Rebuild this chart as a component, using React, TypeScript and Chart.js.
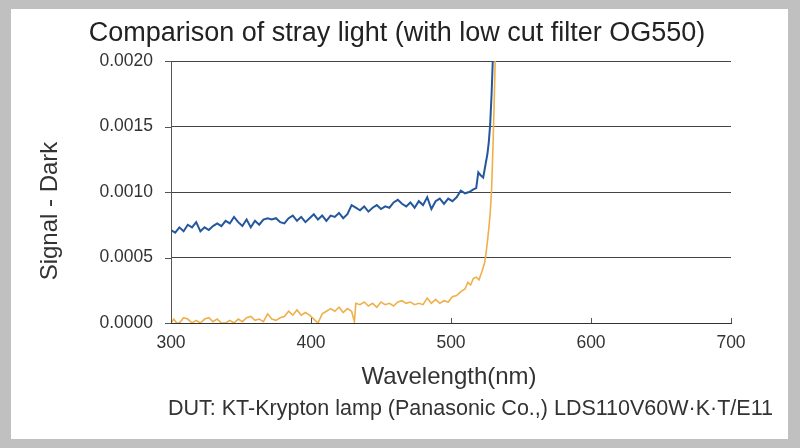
import React, { useEffect, useRef } from "react";
import { Chart, registerables } from "chart.js";

Chart.register(...registerables);

const titleText = "Comparison of stray light (with low cut filter OG550)";
const yTitle = "Signal - Dark";
const xTitle = "Wavelength(nm)";
const footNote = "DUT: KT-Krypton lamp (Panasonic Co.,) LDS110V60W·K·T/E11";

const yTicks = [0, 0.0005, 0.001, 0.0015, 0.002];
const xTicks = [300, 400, 500, 600, 700];

// Without filter (blue), values x1e-4
const blueWl = [
  300, 303, 306, 309, 312, 315, 318, 321, 324, 327, 330, 333, 336, 339, 342, 345, 348, 351, 354, 357,
  360, 363, 366, 369, 372, 375, 378, 381, 384, 387, 390, 393, 396, 399, 402, 405, 408, 411, 414, 417,
  420, 423, 426, 429, 432, 435, 438, 441, 444, 447, 450, 453, 456, 459, 462, 465, 468, 471, 474, 477,
  480, 483, 486, 489, 492, 495, 498, 501, 504, 507, 510, 513, 516, 518, 519.5, 521, 523, 524.5, 526, 527,
  528, 529, 530,
];
const blueVal = [
  7.1, 6.9, 7.3, 7.0, 7.5, 7.3, 7.7, 7.0, 7.3, 7.1, 7.4, 7.6, 7.4, 7.8, 7.6, 8.1, 7.7, 7.4, 7.9, 7.3,
  7.8, 7.5, 7.9, 8.0, 7.9, 8.0, 7.7, 7.6, 8.0, 8.2, 7.8, 8.1, 7.7, 8.0, 8.3, 7.9, 8.2, 7.8, 8.2, 8.1,
  8.4, 8.0, 8.3, 9.0, 8.8, 8.6, 8.9, 8.5, 8.8, 9.0, 8.7, 8.9, 8.8, 9.2, 9.4, 9.1, 8.9, 9.2, 8.8, 9.3,
  9.0, 9.6, 8.7, 9.3, 9.5, 9.1, 9.5, 9.3, 9.6, 10.1, 9.9, 10.0, 10.2, 10.3, 11.5, 11.3, 11.1, 12.0, 12.9, 13.8,
  15.2, 17.5, 20.5,
];

// With OG550 filter (orange), values x1e-4
const orangeWl = [
  300, 302, 304, 306, 309, 312, 315, 318, 321, 324, 327, 330, 333, 336, 339, 342, 345, 348, 351, 354,
  357, 360, 363, 366, 369, 372, 375, 378, 381, 384, 387, 390, 393, 396, 399, 402, 405, 408, 411, 414,
  417, 420, 423, 426, 429, 431, 432, 435, 438, 441, 444, 447, 450, 453, 456, 459, 462, 465, 468, 471,
  474, 477, 480, 483, 486, 489, 492, 495, 498, 501, 504, 507, 510, 512, 514, 516, 518, 520, 522, 524,
  525, 526, 527, 528, 529, 530, 531, 532,
];
const orangeVal = [
  0.0, 0.3, 0.0, 0.0, 0.4, 0.3, 0.0, 0.2, 0.0, 0.3, 0.4, 0.1, 0.3, 0.0, 0.0, 0.2, 0.0, 0.3, 0.1, 0.4,
  0.5, 0.2, 0.3, 0.1, 0.7, 0.3, 0.2, 0.4, 0.5, 0.9, 0.6, 1.0, 0.6, 0.8, 0.6, 0.3, 0.0, 0.7, 0.9, 1.1,
  0.9, 1.2, 0.8, 1.1, 0.9, 0.1, 1.5, 1.4, 1.6, 1.3, 1.5, 1.2, 1.6, 1.4, 1.5, 1.3, 1.6, 1.7, 1.5, 1.6,
  1.4, 1.5, 1.4, 1.9, 1.5, 1.8, 1.5, 1.7, 1.6, 2.0, 2.1, 2.4, 2.6, 3.1, 2.9, 3.4, 3.5, 3.3, 3.9, 4.6,
  5.3, 6.2, 7.2, 8.4, 10.2, 13.5, 17.5, 22,
];

const FONT = "'Liberation Sans', Arial, Helvetica, sans-serif";

const decorPlugin = {
  id: "decor",
  beforeDraw(chart: any) {
    const { ctx, width, height } = chart;
    ctx.save();
    ctx.fillStyle = "#c0c0c0";
    ctx.fillRect(0, 0, width, height);
    ctx.fillStyle = "#ffffff";
    ctx.fillRect(11, 9, 777, 430);
    ctx.restore();
  },
  afterDraw(chart: any) {
    const { ctx, chartArea } = chart;
    ctx.save();
    ctx.fillStyle = "#222222";
    ctx.textAlign = "center";
    ctx.textBaseline = "middle";
    ctx.font = `27px ${FONT}`;
    ctx.fillText(titleText, 397, 34);

    ctx.fillStyle = "#333333";
    ctx.font = `24px ${FONT}`;
    ctx.fillText(xTitle, 449, 377);

    ctx.font = `21.5px ${FONT}`;
    ctx.textAlign = "right";
    ctx.fillText(footNote, 773, 409);

    ctx.translate(50, 211);
    ctx.rotate(-Math.PI / 2);
    ctx.textAlign = "center";
    ctx.font = `24px ${FONT}`;
    ctx.fillText(yTitle, 0, 0);
    ctx.restore();

    // y-axis line and small tick marks
    const ys = chart.scales.y;
    const xs = chart.scales.x;
    ctx.save();
    ctx.strokeStyle = "#555555";
    ctx.lineWidth = 1;
    ctx.beginPath();
    ctx.moveTo(chartArea.left + 0.5, chartArea.top);
    ctx.lineTo(chartArea.left + 0.5, chartArea.bottom);
    yTicks.forEach((v) => {
      const py = Math.round(ys.getPixelForValue(v)) + 0.5;
      ctx.moveTo(chartArea.left - 6, py);
      ctx.lineTo(chartArea.left, py);
    });
    xTicks.forEach((v) => {
      const px = Math.round(xs.getPixelForValue(v)) + 0.5;
      ctx.moveTo(px, chartArea.bottom);
      ctx.lineTo(px, chartArea.bottom - 5);
    });
    ctx.stroke();
    ctx.restore();
  },
};

export default function App() {
  const ref = useRef<HTMLCanvasElement | null>(null);

  useEffect(() => {
    document.body.style.margin = "0";
    const canvas = ref.current;
    if (!canvas) return;
    const blueData = blueWl.map((x, i) => ({ x, y: blueVal[i] * 1e-4 }));
    const orangeData = orangeWl.map((x, i) => ({ x, y: orangeVal[i] * 1e-4 }));
    const chart = new Chart(canvas, {
      type: "line",
      data: {
        datasets: [
          {
            label: "with OG550",
            data: orangeData,
            borderColor: "#efb04a",
            borderWidth: 1.6,
            pointRadius: 0,
            tension: 0,
          },
          {
            label: "without filter",
            data: blueData,
            borderColor: "#24579e",
            borderWidth: 2,
            pointRadius: 0,
            tension: 0,
          },
        ],
      },
      plugins: [decorPlugin],
      options: {
        animation: false,
        responsive: false,
        maintainAspectRatio: false,
        layout: { padding: { left: 20, right: 69, top: 61, bottom: 0 } },
        plugins: {
          legend: { display: false },
          title: { display: false },
          tooltip: { enabled: false },
        },
        scales: {
          x: {
            type: "linear",
            min: 300,
            max: 700,
            afterBuildTicks: (s: any) => {
              s.ticks = xTicks.map((v) => ({ value: v }));
            },
            afterFit: (s: any) => {
              s.height = 448 - 323;
            },
            grid: { display: false, drawTicks: false },
            border: { display: true, color: "#333333", width: 1 },
            ticks: {
              color: "#333333",
              font: { family: FONT, size: 17.5 },
              padding: 10,
              maxRotation: 0,
            },
          },
          y: {
            type: "linear",
            min: 0,
            max: 0.002,
            afterBuildTicks: (s: any) => {
              s.ticks = yTicks.map((v) => ({ value: v }));
            },
            afterFit: (s: any) => {
              s.width = 171 - 20;
            },
            grid: {
              color: "#444444",
              lineWidth: 1,
              drawTicks: false,
            },
            border: { display: false },
            ticks: {
              color: "#333333",
              font: { family: FONT, size: 17.5 },
              padding: 18,
              callback: (v: any) => Number(v).toFixed(4),
            },
          },
        },
      },
    });
    return () => chart.destroy();
  }, []);

  return (
    <div style={{ width: 800, height: 448 }}>
      <canvas ref={ref} width={800} height={448} style={{ display: "block", width: 800, height: 448 }} />
    </div>
  );
}
